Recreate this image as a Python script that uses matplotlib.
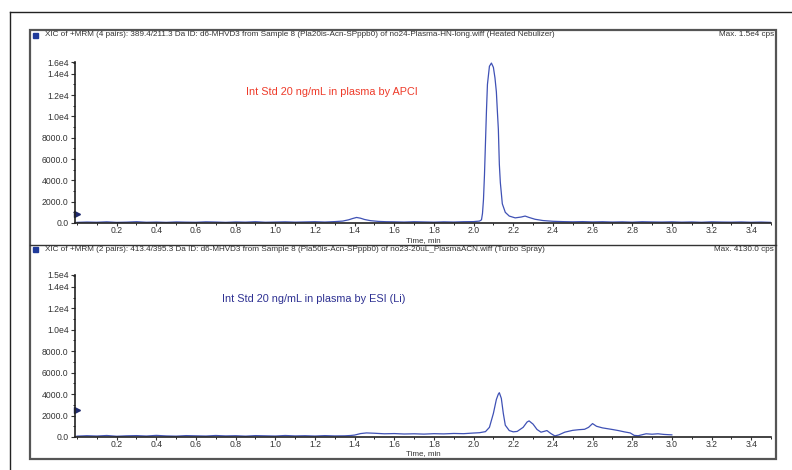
import matplotlib
matplotlib.use("Agg")
import matplotlib.pyplot as plt
from matplotlib.lines import Line2D
from matplotlib.patches import Rectangle
from matplotlib.ticker import MultipleLocator, FixedLocator, FixedFormatter

plt.rcParams['font.family'] = ['Liberation Sans', 'DejaVu Sans']

# APCI trace (Heated Nebulizer)
t_apci = [0.00, 0.05, 0.10, 0.15, 0.20, 0.25, 0.30, 0.35, 0.40, 0.45, 0.50, 0.55,
          0.60, 0.65, 0.70, 0.75, 0.80, 0.85, 0.90, 0.95, 1.00, 1.05, 1.10, 1.15,
          1.20, 1.25, 1.30, 1.34, 1.37, 1.39, 1.41, 1.43, 1.45, 1.48, 1.52, 1.56,
          1.60, 1.65, 1.70, 1.75, 1.80, 1.85, 1.90, 1.95, 2.00, 2.03, 2.04, 2.045,
          2.05, 2.055, 2.06, 2.065, 2.07, 2.08, 2.09, 2.10, 2.108, 2.115, 2.12,
          2.125, 2.13, 2.135, 2.145, 2.16, 2.18, 2.21, 2.24, 2.26, 2.28, 2.31, 2.35,
          2.40, 2.45, 2.50, 2.55, 2.60, 2.65, 2.70, 2.75, 2.80, 2.85, 2.90, 2.95,
          3.00, 3.05, 3.10, 3.15, 3.20, 3.25, 3.30, 3.35, 3.40, 3.45, 3.50]
i_apci = [60, 90, 70, 110, 60, 80, 120, 70, 90, 60, 100, 80,
          70, 110, 90, 60, 100, 80, 120, 70, 90, 110, 80, 100,
          120, 90, 130, 180, 300, 420, 520, 450, 330, 220, 150, 120,
          110, 90, 120, 100, 80, 110, 90, 120, 130, 180, 300, 900,
          2200, 4500, 7500, 10500, 13000, 14700, 15000, 14600, 13600, 12300, 10500,
          8800, 5500, 3800, 1800, 1000, 650, 480, 560, 650, 520, 350, 230,
          160, 130, 110, 130, 100, 120, 90, 110, 80, 120, 100, 90,
          110, 80, 100, 70, 110, 90, 80, 100, 70, 90, 60]

# ESI trace (Turbo Spray)
t_esi = [0.00, 0.05, 0.10, 0.15, 0.20, 0.25, 0.30, 0.35, 0.40, 0.45, 0.50, 0.55,
         0.60, 0.65, 0.70, 0.75, 0.80, 0.85, 0.90, 0.95, 1.00, 1.05, 1.10, 1.15,
         1.20, 1.25, 1.30, 1.35, 1.38, 1.40, 1.43, 1.46, 1.50, 1.55, 1.60, 1.65,
         1.70, 1.75, 1.80, 1.85, 1.90, 1.95, 2.00, 2.03, 2.06, 2.08, 2.10, 2.115,
         2.125, 2.13, 2.14, 2.15, 2.16, 2.18, 2.20, 2.22, 2.25, 2.27, 2.28, 2.30,
         2.32, 2.34, 2.355, 2.37, 2.39, 2.41, 2.43, 2.46, 2.50, 2.53, 2.56, 2.58,
         2.60, 2.62, 2.65, 2.70, 2.73, 2.76, 2.79, 2.81, 2.83, 2.87, 2.90, 2.93,
         2.96, 3.00]
i_esi = [80, 120, 90, 140, 70, 110, 130, 90, 150, 100, 80, 130,
         110, 90, 140, 100, 120, 80, 130, 110, 90, 140, 100, 120,
         90, 130, 100, 110, 140, 180, 320, 380, 350, 300, 320, 280,
         300, 270, 310, 290, 330, 310, 370, 400, 500, 900, 2200, 3500,
         4000, 4130, 3600, 2200, 1100, 600, 480, 520, 900, 1400, 1500, 1200,
         700, 450, 520, 600, 320, 100, 200, 450, 620, 680, 720, 900,
         1250, 1000, 850, 700, 600, 480, 380, 150, 120, 300, 260, 300,
         240, 200]

ytick_vals = [0, 2000, 4000, 6000, 8000, 10000, 12000, 14000]
ytick_text = ['0.0', '2000.0', '4000.0', '6000.0', '8000.0', '1.0e4', '1.2e4', '1.4e4']
y_top = 15100
xtick_vals = [0.2, 0.4, 0.6, 0.8, 1.0, 1.2, 1.4, 1.6, 1.8, 2.0, 2.2, 2.4, 2.6, 2.8, 3.0, 3.2, 3.4]

panels = [
    dict(t=t_apci, i=i_apci, top_label='1.6e4', pointer=800,
         header='XIC of +MRM (4 pairs): 389.4/211.3 Da ID: d6-MHVD3 from Sample 8 '
                '(Pla20is-Acn-SPppb0) of no24-Plasma-HN-long.wiff (Heated Nebulizer)',
         maxtxt='Max. 1.5e4 cps',
         note='Int Std 20 ng/mL in plasma by APCI', note_color='#ee3b2a',
         note_xy=(0.85, 12300)),
    dict(t=t_esi, i=i_esi, top_label='1.5e4', pointer=2500,
         header='XIC of +MRM (2 pairs): 413.4/395.3 Da ID: d6-MHVD3 from Sample 8 '
                '(Pla50is-Acn-SPppb0) of no23-20uL_PlasmaACN.wiff (Turbo Spray)',
         maxtxt='Max. 4130.0 cps',
         note='Int Std 20 ng/mL in plasma by ESI (Li)', note_color='#2e3192',
         note_xy=(0.73, 12900)),
]

W, H = 792, 470
fig = plt.figure(figsize=(W / 100, H / 100), dpi=100)
fig.patch.set_facecolor('white')

def fx(px):
    return px / W

def fy(py):
    return 1 - py / H

# outer frame (runs off the page to the right and bottom)
fig.add_artist(Line2D([fx(10), fx(10)], [fy(12), 0], color='#222222', lw=1.0))
fig.add_artist(Line2D([fx(10), 1], [fy(12), fy(12)], color='#222222', lw=1.0))
# panel box and separator
fig.add_artist(Rectangle((fx(30), fy(459)), fx(776) - fx(30), fy(30) - fy(459),
                         fill=False, edgecolor='#555555', lw=1.6))
fig.add_artist(Line2D([fx(30), fx(776)], [fy(245), fy(245)], color='#333333', lw=1.0))

axes_rects = [
    (fx(75), fy(223), fx(771) - fx(75), fy(62) - fy(223)),
    (fx(75), fy(437), fx(771) - fx(75), fy(275) - fy(437)),
]
header_y = [35, 249]
xlabel_y = [240.5, 454]

for p, rect, hy, ly in zip(panels, axes_rects, header_y, xlabel_y):
    ax = fig.add_axes(rect)
    ax.plot(p['t'], p['i'], color='#3f51b5', lw=0.9)
    ax.set_xlim(-0.01, 3.5)
    ax.set_ylim(0, y_top)
    for s in ['top', 'right']:
        ax.spines[s].set_visible(False)
    for s in ['left', 'bottom']:
        ax.spines[s].set_linewidth(1.2)
        ax.spines[s].set_color('#222222')
    ax.xaxis.set_major_locator(FixedLocator(xtick_vals))
    ax.xaxis.set_major_formatter(FixedFormatter(['%.1f' % v for v in xtick_vals]))
    ax.xaxis.set_minor_locator(MultipleLocator(0.1))
    ax.yaxis.set_major_locator(FixedLocator(ytick_vals + [y_top]))
    ax.yaxis.set_major_formatter(FixedFormatter(ytick_text + [p['top_label']]))
    ax.yaxis.set_minor_locator(MultipleLocator(1000))
    ax.tick_params(axis='both', labelsize=6.2, colors='#333333', width=0.8,
                   length=3, pad=1.5)
    ax.tick_params(axis='both', which='minor', length=1.5, width=0.6)
    ax.tick_params(axis='x', which='major', length=2, pad=0.5)
    # baseline pointer on the intensity axis
    ax.plot([0.0], [p['pointer']], marker='>', color='#1f2a6e', ms=4, clip_on=False)
    ax.text(p['note_xy'][0], p['note_xy'][1], p['note'], color=p['note_color'],
            fontsize=7.8, ha='left', va='center')
    fig.text(fx(423), fy(ly), 'Time, min', fontsize=5.8, ha='center', va='center',
             color='#333333')
    # header strip
    fig.add_artist(Rectangle((fx(33), fy(hy + 3)), fx(5), 5 / H,
                             facecolor='#1f3a9a', edgecolor='#1f3a9a'))
    fig.text(fx(45), fy(hy), p['header'], fontsize=5.9, ha='left', va='center',
             color='#333333')
    fig.text(fx(774), fy(hy), p['maxtxt'], fontsize=5.9, ha='right', va='center',
             color='#333333')

fig.savefig('out.png', dpi=100)
